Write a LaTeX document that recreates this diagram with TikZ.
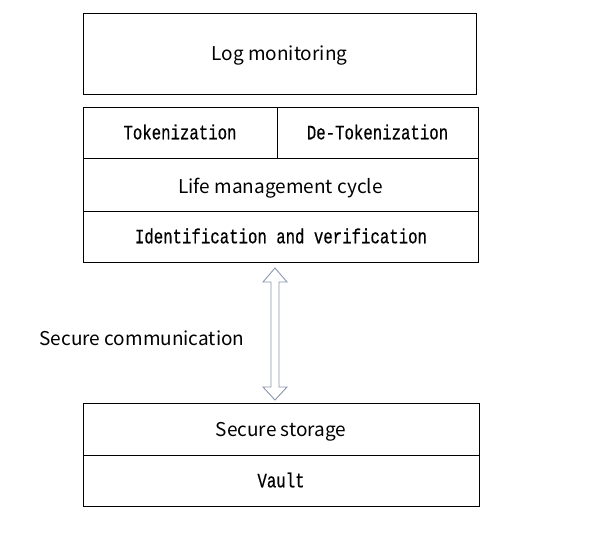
\documentclass[tikz,border=0pt]{standalone}
\usepackage{fontspec}
\usepackage{graphicx}
\setmainfont{Noto Sans CJK SC}
\newfontfamily\monof[FakeBold=0.6]{Liberation Mono}
\newcommand\mtxt[1]{\scalebox{1}[1.3]{#1}}
\usetikzlibrary{calc}
\definecolor{arrowc}{HTML}{8A96AE}
\tikzset{
  boxc/.style={draw=black, line width=1pt, inner sep=0pt},
  sanst/.style={font=\fontsize{19}{22}\selectfont},
  monot/.style={font=\monof\fontsize{15.7}{18}\selectfont},
}
\begin{document}
\begin{tikzpicture}[x=1pt,y=-1pt]
\useasboundingbox (0,0) rectangle (596,547);
% Log monitoring
\draw[boxc] (83,13) rectangle (476,94);
\node[sanst] (log) at (279.5,56) {Log monitoring};
% Top stack
\draw[boxc] (83,107) rectangle (478,262);
\draw[boxc] (83,158) -- (478,158);
\draw[boxc] (83,211) -- (478,211);
\draw[boxc] (277,107) -- (277,158);
\node[monot] (tok) at (180,132) {\mtxt{Tokenization}};
\node[monot] (detok) at (377.5,132) {\mtxt{De-Tokenization}};
\node[sanst] (life) at (280.5,188) {Life management cycle};
\node[monot] (ident) at (281,236) {\mtxt{Identification and verification}};
% Arrow
\draw[draw=arrowc, fill=white, line width=0.9pt, line join=miter]
  (275,268) -- (287,282) -- (279,282) -- (279,387) -- (287,387) -- (275,400)
  -- (263,387) -- (271,387) -- (271,282) -- (263,282) -- cycle;
\node[sanst] (comm) at (142,338) {Secure communication};
% Bottom stack
\draw[boxc] (83,403) rectangle (479,506);
\draw[boxc] (83,455) -- (479,455);
\node[sanst] (stor) at (281,432) {Secure storage};
\node[monot] (vault) at (281,480) {\mtxt{Vault}};
\end{tikzpicture}
\end{document}
